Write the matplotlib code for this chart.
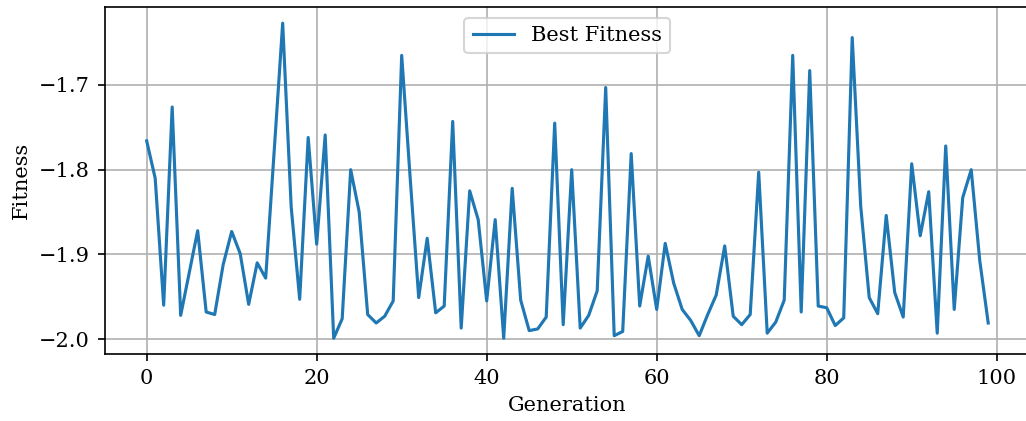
import numpy as np
import matplotlib
matplotlib.use("Agg")
import matplotlib.pyplot as plt

plt.rcParams['font.family'] = 'serif'

generations = list(range(100))
best_fitness = [
    -1.766, -1.810, -1.960, -1.726, -1.972, -1.922, -1.872, -1.968, -1.971, -1.912,
    -1.873, -1.899, -1.959, -1.910, -1.928, -1.778, -1.627, -1.844, -1.953, -1.762,
    -1.888, -1.759, -1.999, -1.976, -1.800, -1.850, -1.971, -1.981, -1.973, -1.955,
    -1.665, -1.810, -1.951, -1.881, -1.969, -1.961, -1.743, -1.987, -1.825, -1.859,
    -1.955, -1.859, -1.999, -1.822, -1.954, -1.990, -1.988, -1.974, -1.745, -1.983,
    -1.800, -1.987, -1.972, -1.943, -1.703, -1.996, -1.991, -1.781, -1.961, -1.902,
    -1.965, -1.887, -1.934, -1.965, -1.978, -1.996, -1.971, -1.948, -1.890, -1.973,
    -1.983, -1.971, -1.803, -1.993, -1.980, -1.954, -1.665, -1.968, -1.683, -1.961,
    -1.963, -1.984, -1.975, -1.644, -1.843, -1.951, -1.970, -1.854, -1.945, -1.974,
    -1.793, -1.878, -1.826, -1.993, -1.772, -1.965, -1.833, -1.800, -1.907, -1.981,
]

fig = plt.figure(figsize=(1026 / 150, 421 / 150), dpi=150)
ax = fig.add_axes([104.6 / 1026, 1 - 354 / 421, (1030.3 - 104.6) / 1026, (354 - 7.4) / 421])
ax.plot(generations, best_fitness, label='Best Fitness')
ax.set_xlabel('Generation')
ax.set_ylabel('Fitness')
ax.set_yticks([-2.0, -1.9, -1.8, -1.7])
ax.spines['right'].set_visible(False)
ax.grid(True)
ax.legend(loc='upper center')
fig.savefig('out.png', dpi=150)
